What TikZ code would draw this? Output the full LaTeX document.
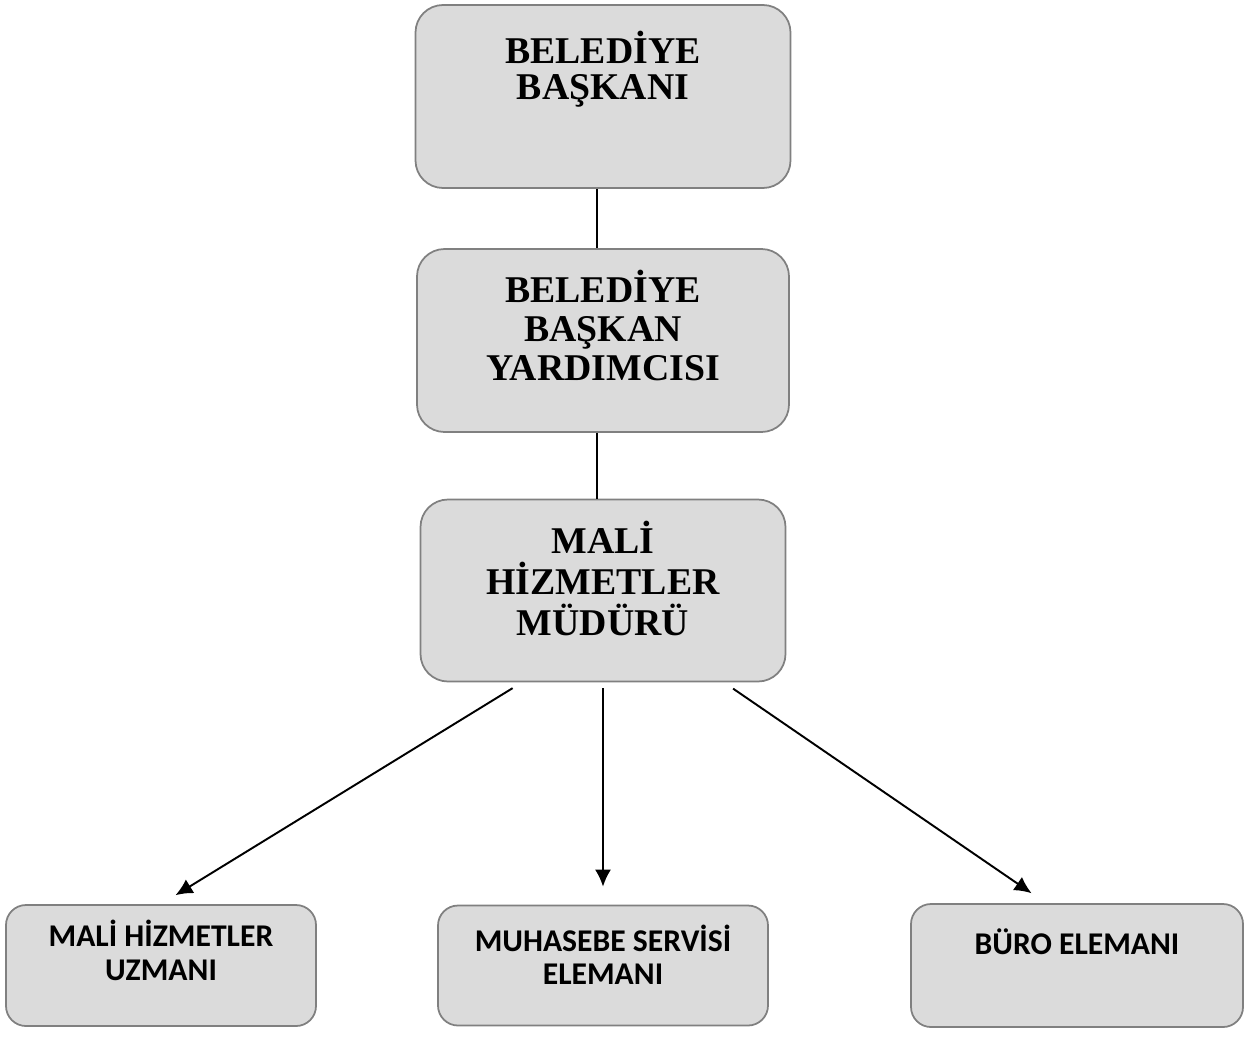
\documentclass[tikz,border=0pt]{standalone}
\usepackage{fontspec}
\setmainfont{Liberation Serif}
\newfontfamily\calibri{Carlito}
\usetikzlibrary{arrows.meta}

\tikzset{
  kutu/.style={draw=black!50, line width=1pt, fill=black!14, rounded corners=0.55cm},
  ustyazi/.style={anchor=north, inner sep=0pt, align=center, font=\bfseries\fontsize{21.5}{22}\selectfont},
  altyazi/.style={anchor=north, inner sep=0pt, align=center, font=\calibri\bfseries\fontsize{18}{19}\selectfont},
}

\begin{document}
\begin{tikzpicture}[node distance=4.9cm, >={Latex[length=0.34cm,width=0.32cm]}]
\useasboundingbox (0,0) rectangle (25.06,-20.72);
\node (baskan) [kutu, minimum width=7.5cm, minimum height=3.66cm] at (12.06,-1.93) {};
\node (yardimci) [kutu, minimum width=7.44cm, minimum height=3.66cm, below of=baskan, node distance=4.88cm] {};
\node (mudur) [kutu, minimum width=7.3cm, minimum height=3.64cm, below of=yardimci, node distance=5cm] {};
\node (muhasebe) [kutu, rounded corners=0.4cm, minimum width=6.6cm, minimum height=2.4cm, below of=mudur, node distance=7.5cm] {};
\node (uzman) [kutu, rounded corners=0.4cm, minimum width=6.2cm, minimum height=2.42cm, left of=muhasebe, node distance=8.84cm] {};
\node (buro) [kutu, rounded corners=0.4cm, minimum width=6.64cm, minimum height=2.46cm, right of=muhasebe, node distance=9.48cm] {};

\node (baskanT) [ustyazi, font=\bfseries\fontsize{21.5}{20}\selectfont] at ([yshift=-0.54cm]baskan.north) {BELEDİYE\\BAŞKANI};
\node (yardimciT) [ustyazi] at ([yshift=-0.44cm]yardimci.north) {BELEDİYE\\BAŞKAN\\YARDIMCISI};
\node (mudurT) [ustyazi, font=\bfseries\fontsize{21.5}{23.5}\selectfont] at ([yshift=-0.44cm]mudur.north) {MALİ\\HİZMETLER\\MÜDÜRÜ};
\node (uzmanT) [altyazi] at ([yshift=-0.32cm]uzman.north) {MALİ HİZMETLER\\UZMANI};
\node (muhasebeT) [altyazi] at ([yshift=-0.4cm]muhasebe.north) {MUHASEBE SERVİSİ\\ELEMANI};
\node (buroT) [altyazi] at ([yshift=-0.5cm]buro.north) {BÜRO ELEMANI};

\draw[line width=1.1pt] ([xshift=-0.12cm]baskan.south) -- ([xshift=-0.12cm]yardimci.north);
\draw[line width=1.1pt] ([xshift=-0.12cm]yardimci.south) -- ([xshift=-0.12cm]mudur.north);
\draw[->, line width=1.1pt, shorten <=0.22cm, shorten >=0.34cm] ([xshift=-1.62cm]mudur.south) -- (uzman.north);
\draw[->, line width=1.1pt, shorten <=0.12cm, shorten >=0.36cm] (mudur.south) -- (muhasebe.north);
\draw[->, line width=1.1pt, shorten <=0.22cm, shorten >=0.35cm] ([xshift=2.42cm]mudur.south) -- ([xshift=-0.62cm]buro.north);
\end{tikzpicture}
\end{document}
